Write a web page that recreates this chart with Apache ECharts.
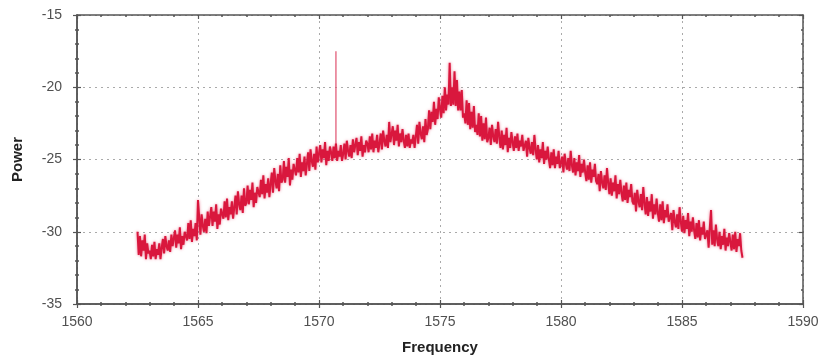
<!DOCTYPE html>
<html>
<head>
<meta charset="utf-8">
<script src="https://cdn.jsdelivr.net/npm/echarts@6/dist/echarts.min.js"></script>
<style>html,body{margin:0;padding:0;background:#fff}#c{width:823px;height:360px}</style>
</head>
<body>
<div id="c"></div>
<script>
// Sampling grid: frequency start and step
const freqStart = 1562.5;
const freqStep = 0.05;
// Power values, one per 0.05 step (1562.5 ... 1587.5), 10 per line = 0.5 span
const power = [
  -30.0,-31.6,-30.3,-31.7,-30.6,-31.3,-30.2,-31.9,-30.8,-31.5,
  -31.3,-31.9,-30.9,-31.7,-30.7,-31.9,-31.2,-31.6,-30.8,-31.9,
  -31.1,-30.5,-31.5,-30.3,-31.0,-31.3,-30.6,-31.4,-30.2,-31.0,
  -30.9,-29.9,-31.1,-30.2,-30.8,-29.7,-31.2,-30.3,-30.9,-30.0,
  -30.0,-30.6,-29.4,-30.5,-29.2,-30.7,-29.8,-30.3,-29.4,-30.6,
  -27.8,-29.0,-30.2,-28.8,-29.6,-30.0,-29.1,-30.1,-28.6,-29.6,
  -29.5,-28.3,-29.6,-28.6,-29.3,-28.1,-29.8,-28.8,-29.5,-28.4,
  -28.5,-29.1,-27.9,-29.0,-27.7,-29.2,-28.3,-28.8,-27.9,-29.1,
  -28.3,-27.5,-28.8,-27.2,-28.1,-28.5,-27.5,-28.7,-27.0,-28.2,
  -28.0,-26.8,-28.1,-27.1,-27.8,-26.6,-28.3,-27.3,-28.0,-26.9,
  -26.9,-27.6,-26.4,-27.4,-26.1,-27.7,-26.7,-27.3,-26.3,-27.6,
  -26.7,-25.9,-27.3,-25.6,-26.5,-27.0,-26.0,-27.2,-25.4,-26.6,
  -26.4,-25.1,-26.6,-25.5,-26.2,-24.9,-26.8,-25.7,-26.4,-25.3,
  -25.4,-26.1,-24.9,-25.9,-24.6,-26.2,-25.2,-25.8,-24.8,-26.1,
  -25.3,-24.5,-25.8,-24.3,-25.1,-25.5,-24.6,-25.7,-24.1,-25.2,
  -25.1,-24.0,-25.2,-24.3,-24.9,-23.8,-25.4,-24.4,-25.1,-24.1,
  -24.5,-25.1,-24.1,-24.9,-23.9,-25.1,-24.4,-24.8,-24.0,-25.1,
  -24.6,-23.9,-25.0,-23.7,-24.4,-24.8,-24.0,-24.9,-23.6,-24.5,
  -24.5,-23.5,-24.7,-23.8,-24.4,-23.4,-24.8,-24.0,-24.5,-23.7,
  -23.9,-24.5,-23.4,-24.3,-23.2,-24.5,-23.7,-24.2,-23.3,-24.5,
  -23.9,-23.2,-24.3,-23.0,-23.7,-24.1,-23.3,-24.2,-22.4,-23.8,
  -23.8,-22.7,-24.0,-23.0,-23.7,-22.6,-24.1,-23.2,-23.8,-22.9,
  -23.7,-24.2,-23.3,-24.1,-23.2,-24.2,-23.6,-23.9,-23.3,-24.2,
  -23.4,-22.6,-23.9,-22.4,-23.2,-23.6,-22.7,-23.8,-22.2,-23.3,
  -22.9,-21.6,-22.9,-21.7,-22.4,-21.0,-22.6,-21.5,-22.2,-20.7,
  -21.5,-22.1,-20.6,-21.8,-20.0,-21.6,-20.5,-21.2,-18.3,-21.3,
  -20.0,-21.2,-18.9,-21.3,-19.5,-21.6,-20.3,-21.6,-20.2,-22.1,
  -21.8,-22.5,-20.9,-22.6,-21.1,-22.9,-21.7,-22.8,-21.3,-23.1,
  -22.6,-23.3,-21.8,-23.4,-22.0,-23.7,-22.5,-23.6,-22.1,-23.8,
  -23.5,-22.8,-24.0,-22.6,-23.4,-23.8,-22.9,-23.9,-22.4,-23.4,
  -24.2,-23.0,-24.3,-23.3,-24.0,-22.8,-24.5,-23.5,-24.2,-23.1,
  -23.8,-24.4,-23.4,-24.2,-23.2,-24.4,-23.7,-24.1,-23.3,-24.4,
  -24.4,-23.7,-24.8,-23.5,-24.2,-24.6,-23.8,-24.7,-23.3,-24.3,
  -25.0,-24.0,-25.2,-24.3,-24.9,-23.8,-25.3,-24.4,-25.0,-24.1,
  -25.0,-25.6,-24.5,-25.4,-24.3,-25.6,-24.8,-25.3,-24.4,-25.6,
  -25.5,-24.8,-25.9,-24.6,-25.3,-25.7,-24.9,-25.8,-24.4,-25.4,
  -25.9,-24.9,-26.1,-25.2,-25.8,-24.7,-26.2,-25.3,-25.9,-25.0,
  -25.9,-26.5,-25.4,-26.4,-25.2,-26.6,-25.7,-26.2,-25.3,-26.5,
  -26.7,-26.0,-27.2,-25.8,-26.6,-27.0,-26.1,-27.1,-25.6,-26.6,
  -27.4,-26.3,-27.5,-26.6,-27.2,-26.1,-27.7,-26.7,-27.4,-26.4,
  -27.3,-27.9,-26.8,-27.8,-26.6,-28.0,-27.1,-27.6,-26.7,-27.9,
  -28.1,-27.3,-28.6,-27.1,-27.9,-28.3,-27.4,-28.5,-26.9,-28.0,
  -28.8,-27.6,-28.9,-27.9,-28.6,-27.4,-29.1,-28.1,-28.8,-27.7,
  -28.7,-29.3,-28.1,-29.2,-27.9,-29.4,-28.5,-29.0,-28.1,-29.3,
  -29.4,-28.7,-29.9,-28.5,-29.3,-29.7,-28.8,-29.8,-28.3,-29.3,
  -30.0,-28.9,-30.1,-29.2,-29.8,-28.7,-30.3,-29.3,-30.0,-29.0,
  -29.9,-30.5,-29.4,-30.4,-29.2,-30.6,-29.7,-30.2,-29.3,-30.5,
  -30.6,-29.9,-31.1,-29.7,-28.5,-30.9,-29.9,-31.0,-29.5,-30.5,
  -31.0,-30.0,-31.2,-30.3,-30.9,-29.8,-31.3,-30.4,-31.0,-30.1,
  -30.7,-31.3,-30.2,-31.2,-30.0,-31.4,-30.5,-31.0,-30.1,-31.3,
  -31.8
];
// Narrow spur near 1570.7
const spurFreq = [1570.7, 1570.7];
const spurPower = [-24.6, -17.5];
const xTicks = [1560, 1565, 1570, 1575, 1580, 1585, 1590];
const yTicks = [-35, -30, -25, -20, -15];

const lineData = power.map((v, i) => [+(freqStart + i * freqStep).toFixed(3), v]);
const spurData = spurFreq.map((f, i) => [f, spurPower[i]]);

const frameColor = '#555';
const labelFont = 'Liberation Sans, Arial, sans-serif';
function ax(kind, pos, showLabel, inside, extra) {
  const t = kind === 'x' ? xTicks : yTicks;
  return Object.assign({
    type: 'value', position: pos, min: t[0], max: t[t.length-1], interval: 5,
    axisLine: {show: true, onZero: false, lineStyle: {color: frameColor, width: 1.5}},
    axisTick: {show: true, inside: inside, length: 4, lineStyle: {color: frameColor, width: 1.2}},
    minorTick: {show: true, splitNumber: 5, length: 2, lineStyle: {color: frameColor, width: 1.5}},
    axisLabel: {show: showLabel, color: '#505050', fontSize: 14, fontFamily: labelFont,
                margin: kind === 'x' ? 11 : 15, formatter: v => String(v)},
    splitLine: {show: false}
  }, extra || {});
}

const chart = echarts.init(document.getElementById('c'), null, {renderer: 'canvas'});
chart.setOption({
  animation: false,
  backgroundColor: '#fff',
  grid: {left: 77, right: 20, top: 15, bottom: 56, containLabel: false},
  xAxis: [
    ax('x', 'bottom', true, false, {
      name: 'Frequency', nameLocation: 'middle', nameGap: 36,
      nameTextStyle: {color: '#222', fontWeight: 'bold', fontSize: 15, fontFamily: labelFont},
      splitLine: {show: true, lineStyle: {color: '#aaa', width: 1, type: [2, 4]}}
    }),
    ax('x', 'bottom', false, true),
    ax('x', 'top', false, true)
  ],
  yAxis: [
    ax('y', 'left', true, false, {
      name: 'Power', nameLocation: 'middle', nameGap: 52, nameRotate: 90,
      nameTextStyle: {color: '#222', fontWeight: 'bold', fontSize: 15, fontFamily: labelFont},
      splitLine: {show: true, lineStyle: {color: '#aaa', width: 1, type: [2, 4]}}
    }),
    ax('y', 'left', false, true),
    ax('y', 'right', false, true)
  ],
  series: [
    {type: 'line', xAxisIndex: 0, yAxisIndex: 0, data: lineData, showSymbol: false, symbol: 'none',
     sampling: null, lineStyle: {color: '#d9173d', width: 2, shadowBlur: 3, shadowColor: 'rgba(225,40,80,0.6)'}, z: 3},
    {type: 'line', xAxisIndex: 0, yAxisIndex: 0, data: spurData, showSymbol: false, symbol: 'none',
     lineStyle: {color: '#e0506e', width: 1.2}, z: 2}
  ]
});
</script>
</body>
</html>
